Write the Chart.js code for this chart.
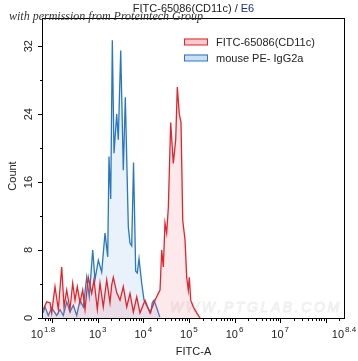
<!DOCTYPE html>
<html>
<head>
<meta charset="utf-8">
<script src="https://cdn.jsdelivr.net/npm/chart.js@4.4.1/dist/chart.umd.min.js"></script>
<style>
  html, body { margin: 0; padding: 0; background: #fff; }
</style>
</head>
<body>
<canvas id="histo" width="358" height="361"></canvas>
<script>
// FITC-65086 (CD11c) stained sample, x in log10(FITC-A)
const redLogX = [1.807, 1.881, 1.954, 1.991, 2.063, 2.136, 2.210, 2.261, 2.320, 2.392,
  2.451, 2.502, 2.552, 2.611, 2.671, 2.721, 2.793, 2.868, 2.918, 2.991,
  3.050, 3.122, 3.197, 3.269, 3.307, 3.342, 3.416, 3.489, 3.561, 3.636,
  3.708, 3.781, 3.855, 3.927, 4.037, 4.146, 4.256, 4.328, 4.366, 4.403,
  4.438, 4.475, 4.512, 4.548, 4.600, 4.657, 4.710, 4.745, 4.789, 4.826,
  4.864, 4.914, 4.951, 4.986, 5.008, 5.039, 5.096, 5.171, 5.243];
const redCount = [1.0, 1.9, 1.8, 0.6, 3.7, 1.0, 6.0, 1.3, 3.3, 1.0,
  4.1, 2.1, 3.7, 1.8, 3.3, 1.0, 4.8, 2.9, 4.5, 1.0,
  4.1, 1.3, 4.5, 1.8, 3.9, 4.8, 3.0, 2.1, 3.7, 1.3,
  2.9, 0.7, 2.5, 0.6, 2.1, 0.6, 2.1, 2.9, 3.3, 8.0,
  6.0, 11.2, 10.0, 13.0, 23.0, 18.2, 21.0, 27.2, 24.0, 23.0,
  11.5, 9.2, 4.8, 3.3, 4.8, 2.1, 1.3, 0.6, 0];

// isotype control (mouse PE- IgG2a)
const blueLogX = [1.800, 1.844, 1.916, 1.991, 2.100, 2.173, 2.245, 2.320, 2.392, 2.464,
  2.539, 2.611, 2.684, 2.758, 2.815, 2.890, 2.940, 3.013, 3.087, 3.160,
  3.219, 3.247, 3.285, 3.320, 3.357, 3.416, 3.451, 3.504, 3.561, 3.605,
  3.671, 3.708, 3.745, 3.785, 3.833, 3.868, 3.905, 3.964, 4.015, 4.088,
  4.161, 4.196, 4.234, 4.307, 4.360];
const blueCount = [0.6, 1.3, 0.3, 1.2, 0.3, 1.0, 0.3, 1.9, 0.7, 1.5,
  0.3, 2.1, 1.3, 4.8, 2.5, 8.0, 4.5, 6.8, 5.4, 10.0,
  7.2, 19.0, 14.0, 32.7, 19.4, 24.0, 21.0, 31.5, 17.4, 26.0,
  10.7, 8.8, 8.5, 18.3, 5.5, 5.3, 7.0, 4.1, 2.1, 1.3,
  0.6, 1.8, 2.1, 1.0, 0.1];

const seriesNames = ['FITC-65086(CD11c)', 'mouse PE- IgG2a'];
const yTickVals = [0, 8, 16, 24, 32];
const yMinorVals = [4, 12, 20, 28];
const xTickExps = ['1.8', '3', '4', '5', '6', '7', '8.4'];

const RED = '#e4232b', RED_FILL = 'rgba(244, 120, 130, 0.16)';
const BLUE = '#2878c0', BLUE_FILL = 'rgba(120, 170, 225, 0.16)';
const FONT = '"Liberation Sans", Arial, sans-serif';

function toPoints(lx, cnt) {
  return lx.map((v, i) => ({ x: Math.pow(10, v), y: cnt[i] }));
}

const decor = {
  id: 'decor',
  beforeDatasetsDraw(chart) {
    const ctx = chart.ctx;
    // faint site watermark
    ctx.save();
    ctx.font = 'italic 14px ' + FONT;
    ctx.strokeStyle = '#efefef';
    ctx.lineWidth = 1;
    const txt = 'WWW.PTGLAB.COM';
    let cx = 170;
    for (const ch of txt) {
      ctx.strokeText(ch, cx, 312);
      cx += ctx.measureText(ch).width + 2.6;
    }
    ctx.restore();
  },
  afterDraw(chart) {
    const { ctx, chartArea: a, scales: { x, y } } = chart;
    ctx.save();
    ctx.strokeStyle = '#000';
    ctx.lineWidth = 1;
    ctx.strokeRect(a.left - 0.5, a.top - 0.5, a.right - a.left + 1, a.bottom - a.top + 1);

    // y ticks
    ctx.beginPath();
    yTickVals.forEach(v => {
      const py = Math.round(y.getPixelForValue(v)) + 0.5;
      ctx.moveTo(a.left - 5, py); ctx.lineTo(a.left, py);
    });
    yMinorVals.forEach(v => {
      const py = Math.round(y.getPixelForValue(v)) + 0.5;
      ctx.moveTo(a.left - 3, py); ctx.lineTo(a.left, py);
    });
    // x ticks, decades and minor 2..9
    for (let d = 1; d <= 8; d++) {
      for (let k = 1; k <= 9; k++) {
        const lv = d + Math.log10(k);
        if (lv < 1.8 || lv > 8.4) continue;
        const px = Math.round(x.getPixelForValue(Math.pow(10, lv))) + 0.5;
        const len = k === 1 ? 5 : 3;
        ctx.moveTo(px, a.bottom); ctx.lineTo(px, a.bottom + len);
      }
    }
    ctx.stroke();

    ctx.fillStyle = '#222';
    // y labels, rotated
    ctx.font = '11px ' + FONT;
    ctx.textAlign = 'center';
    ctx.textBaseline = 'middle';
    yTickVals.forEach(v => {
      const py = y.getPixelForValue(v);
      ctx.save();
      ctx.translate(29, py);
      ctx.rotate(-Math.PI / 2);
      ctx.fillText(String(v), 0, 0);
      ctx.restore();
    });
    ctx.save();
    ctx.translate(13, 176);
    ctx.rotate(-Math.PI / 2);
    ctx.fillText('Count', 0, 0);
    ctx.restore();

    // x labels with superscript exponents
    ctx.textAlign = 'left';
    ctx.textBaseline = 'alphabetic';
    xTickExps.forEach(e => {
      const px = x.getPixelForValue(Math.pow(10, parseFloat(e)));
      ctx.font = '11px ' + FONT;
      const w1 = ctx.measureText('10').width;
      ctx.font = '8px ' + FONT;
      const w2 = ctx.measureText(e).width;
      const start = px - (w1 + w2 + 1) / 2;
      ctx.font = '11px ' + FONT;
      ctx.fillText('10', start, 338);
      ctx.font = '8px ' + FONT;
      ctx.fillText(e, start + w1 + 1, 332);
    });
    ctx.font = '11px ' + FONT;
    ctx.textAlign = 'center';
    ctx.fillText('FITC-A', (a.left + a.right) / 2, 355);

    // title
    const t1 = 'FITC-65086(CD11c) / ', t2 = 'E6';
    const tw = ctx.measureText(t1 + t2).width;
    const tx = (a.left + a.right) / 2 - tw / 2;
    ctx.textAlign = 'left';
    ctx.fillStyle = '#222';
    ctx.fillText(t1, tx, 12);
    ctx.fillStyle = '#1a2a9a';
    ctx.fillText(t2, tx + ctx.measureText(t1).width, 12);

    // legend
    const legendCols = [[RED, 'rgba(244, 170, 175, 0.6)'], [BLUE, 'rgba(170, 200, 235, 0.6)']];
    seriesNames.forEach((name, i) => {
      const ly = 38.5 + i * 16;
      ctx.fillStyle = legendCols[i][1];
      ctx.fillRect(184, ly, 24, 6.5);
      ctx.strokeStyle = legendCols[i][0];
      ctx.lineWidth = 1;
      ctx.strokeRect(184.5, ly + 0.5, 23, 6);
      ctx.fillStyle = '#222';
      ctx.fillText(name, 216, ly + 7.5);
    });

    // permission note
    ctx.font = 'italic 12px "Liberation Serif", serif';
    ctx.fillStyle = '#333';
    ctx.fillText('with permission from Proteintech Group', 9, 20);
    ctx.restore();
  }
};

const histoChart = new Chart(document.getElementById('histo'), {
  type: 'line',
  data: {
    datasets: [
      {
        label: seriesNames[0],
        data: toPoints(redLogX, redCount),
        borderColor: RED,
        backgroundColor: RED_FILL,
        borderWidth: 1.3,
        fill: 'origin',
      },
      {
        label: seriesNames[1],
        data: toPoints(blueLogX, blueCount),
        borderColor: BLUE,
        backgroundColor: BLUE_FILL,
        borderWidth: 1.3,
        fill: 'origin',
      },
    ],
  },
  options: {
    responsive: false,
    animation: false,
    devicePixelRatio: 1,
    layout: { padding: { left: 43, right: 14, top: 19, bottom: 43 } },
    elements: { point: { radius: 0 }, line: { tension: 0 } },
    plugins: { legend: { display: false }, tooltip: { enabled: false } },
    scales: {
      x: { type: 'logarithmic', min: Math.pow(10, 1.8), max: Math.pow(10, 8.4), display: false },
      y: { type: 'linear', min: 0, max: 35.2, display: false },
    },
  },
  plugins: [decor],
});
</script>
</body>
</html>
